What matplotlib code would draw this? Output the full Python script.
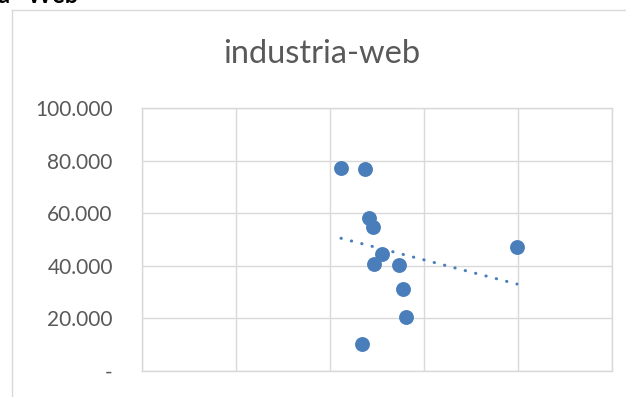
import numpy as np
import matplotlib.pyplot as plt
from matplotlib.ticker import FuncFormatter

# valores de la serie industria-web
x_vals = [2.117, 2.375, 2.415, 2.454, 2.550, 2.471, 2.737, 2.780, 2.805, 2.344, 3.989]
y_vals = [77220, 76950, 58020, 54590, 44570, 40760, 40380, 31240, 20460, 10400, 47120]
titulo = 'industria-web'

x = np.array(x_vals)
y = np.array(y_vals)

plt.rcParams['font.family'] = ['Lato', 'DejaVu Sans']

fig = plt.figure(figsize=(6.26, 3.97), dpi=100)

# marco del gráfico
fig.add_artist(plt.Line2D([12 / 626, 12 / 626], [0, 1 - 10 / 397], color='#D9D9D9', lw=1.0))
fig.add_artist(plt.Line2D([12 / 626, 1], [1 - 10 / 397, 1 - 10 / 397], color='#D9D9D9', lw=1.0))
fig.text(-2 / 626, 1 - 3 / 397, 'a   Web', fontsize=17, fontweight='bold',
         va='baseline', ha='left')

ax = fig.add_axes([142 / 626, 26 / 397, 470 / 626, 263 / 397])
ax.set_xlim(0, 5)
ax.set_ylim(0, 100000)
ax.set_xticks(np.arange(0, 6))
ax.set_yticks(np.arange(0, 100001, 20000))
ax.grid(True, color='#D9D9D9', lw=1.0)
ax.set_axisbelow(True)
for s in ax.spines.values():
    s.set_color('#D9D9D9')
    s.set_linewidth(1.0)
ax.tick_params(length=0, labelsize=15, labelcolor='#595959', pad=21)
ax.set_xticklabels([])
ax.yaxis.set_major_formatter(FuncFormatter(
    lambda v, p: '-' if v == 0 else f'{int(v):,}'.replace(',', '.')))

ax.scatter(x, y, s=115, color='#4A7EBB', zorder=3, linewidths=0)

# línea de tendencia lineal
m, b = np.polyfit(x, y, 1)
xt = np.array([x.min(), x.max()])
ax.plot(xt, m * xt + b, color='#4A7EBB', lw=2.2, linestyle=(0, (0.1, 3.4)),
        dash_capstyle='round', zorder=2)

fig.text(322 / 626, 1 - 54 / 397, titulo, fontsize=23.5, color='#595959',
         ha='center', va='center')

fig.savefig('out.png', dpi=100)
